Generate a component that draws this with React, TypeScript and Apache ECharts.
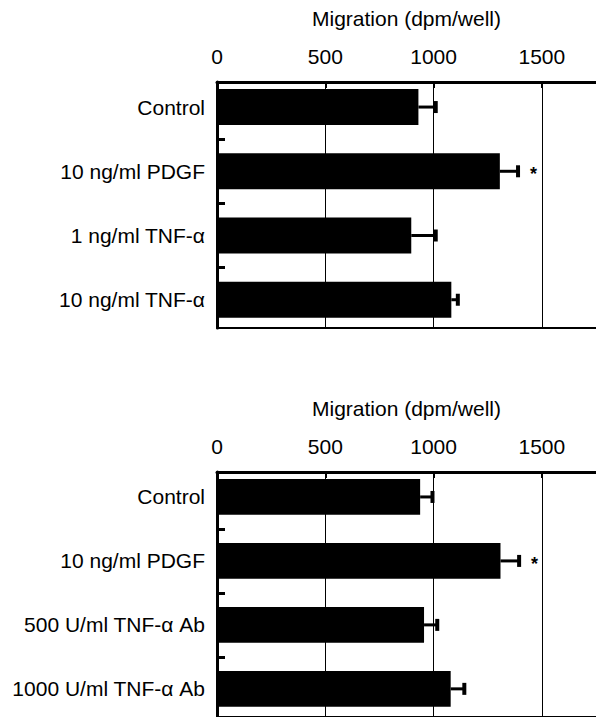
import React, { useEffect, useRef } from "react";
import * as echarts from "echarts";

// ---- data ----
const topCategories = ["Control", "10 ng/ml PDGF", "1 ng/ml TNF-\u03b1", "10 ng/ml TNF-\u03b1"];
const topValues = [930, 1306, 897, 1082];
const topErrors = [80, 84, 113, 30];
const topSig = ["", "*", "", ""];

const bottomCategories = ["Control", "10 ng/ml PDGF", "500 U/ml TNF-\u03b1 Ab", "1000 U/ml TNF-\u03b1 Ab"];
const bottomValues = [938, 1309, 956, 1079];
const bottomErrors = [57, 86, 61, 63];
const bottomSig = ["", "*", "", ""];

const xTicks = [0, 500, 1000, 1500];
const axisTitle = "Migration (dpm/well)";

// ---- layout / style ----
const FONT = "'Liberation Sans', Arial, Helvetica, sans-serif";
const FS = 21;
const X_MAX = 1750;
const Y_MIN = -0.39;
const Y_MAX = 3.44;
const GRID_LEFT = 217;
const GRID_WIDTH = 385;
const GRID_HEIGHT = 246;
const PANEL_TOPS = [82, 472];
const BAR_FRAC = 0.56;

function makeRenderItem(sig: string[]) {
  return (params: any, api: any) => {
    const v = api.value(0);
    const idx = api.value(1);
    const e = api.value(2);
    const p0 = api.coord([0, idx]);
    const p1 = api.coord([v, idx]);
    const p2 = api.coord([v + e, idx]);
    const h = Math.abs(api.size([0, BAR_FRAC])[1]);
    const children: any[] = [
      {
        type: "rect",
        shape: { x: p0[0], y: p0[1] - h / 2, width: p1[0] - p0[0], height: h },
        style: { fill: "#000" },
      },
      {
        type: "line",
        shape: { x1: p1[0], y1: p1[1], x2: p2[0], y2: p2[1] },
        style: { stroke: "#000", lineWidth: 3 },
      },
      {
        type: "line",
        shape: { x1: p2[0], y1: p2[1] - 6, x2: p2[0], y2: p2[1] + 6 },
        style: { stroke: "#000", lineWidth: 4 },
      },
    ];
    const s = sig[Math.round(idx)];
    if (s) {
      children.push({
        type: "text",
        x: p2[0] + 12,
        y: p2[1] + 3,
        style: { text: s, fill: "#000", fontSize: 18, fontWeight: "bold", fontFamily: FONT, verticalAlign: "middle" },
      });
    }
    return { type: "group", children };
  };
}

export default function App() {
  const ref = useRef<HTMLDivElement>(null);
  useEffect(() => {
    if (!ref.current) return;
    const chart = echarts.init(ref.current, null, { renderer: "svg" });
    const panels = [
      { cats: topCategories, vals: topValues, errs: topErrors, sig: topSig },
      { cats: bottomCategories, vals: bottomValues, errs: bottomErrors, sig: bottomSig },
    ];
    const grid: any[] = [];
    const xAxis: any[] = [];
    const yAxis: any[] = [];
    const series: any[] = [];
    panels.forEach((p, i) => {
      grid.push({ left: GRID_LEFT, top: PANEL_TOPS[i], width: GRID_WIDTH, height: GRID_HEIGHT });
      xAxis.push({
        gridIndex: i,
        type: "value",
        position: "top",
        min: 0,
        max: X_MAX,
        interval: 500,
        name: axisTitle,
        nameLocation: "middle",
        nameGap: 53,
        nameTextStyle: { fontSize: FS, color: "#000", fontFamily: FONT },
        axisLine: { show: true, onZero: false, lineStyle: { color: "#000", width: 3 } },
        axisTick: { show: true, inside: true, length: 6, lineStyle: { color: "#000", width: 2 } },
        axisLabel: {
          color: "#000",
          fontSize: FS,
          fontFamily: FONT,
          margin: 15,
          showMaxLabel: false,
          formatter: (v: number) => (xTicks.includes(v) ? String(v) : ""),
        },
        splitLine: { show: true, lineStyle: { color: "#000", width: 1 } },
      });
      xAxis.push({
        gridIndex: i,
        type: "value",
        position: "bottom",
        min: 0,
        max: X_MAX,
        interval: 500,
        axisLine: { show: true, onZero: false, lineStyle: { color: "#000", width: 2 } },
        axisTick: { show: false },
        axisLabel: { show: false },
        splitLine: { show: false },
      });
      yAxis.push({
        gridIndex: i,
        type: "value",
        inverse: true,
        min: Y_MIN,
        max: Y_MAX,
        axisLine: { show: true, onZero: false, lineStyle: { color: "#000", width: 3 } },
        axisTick: {
          show: true,
          inside: true,
          length: 8,
          customValues: [0.5, 1.5, 2.5],
          lineStyle: { color: "#000", width: 3 },
        },
        axisLabel: {
          show: true,
          customValues: [0, 1, 2, 3],
          color: "#000",
          fontSize: FS,
          fontFamily: FONT,
          margin: 12,
          formatter: (v: number) => p.cats[Math.round(v)] ?? "",
        },
        splitLine: { show: false },
      });
      series.push({
        type: "custom",
        xAxisIndex: i * 2,
        yAxisIndex: i,
        renderItem: makeRenderItem(p.sig),
        encode: { x: 0, y: 1 },
        data: p.vals.map((v, k) => [v, k, p.errs[k]]),
      });
    });
    chart.setOption({
      animation: false,
      backgroundColor: "#fff",
      grid,
      xAxis,
      yAxis,
      series,
    });
    return () => chart.dispose();
  }, []);
  return (
    <div
      ref={ref}
      style={{ position: "fixed", left: 0, top: 0, width: 596, height: 717, background: "#fff" }}
    />
  );
}
